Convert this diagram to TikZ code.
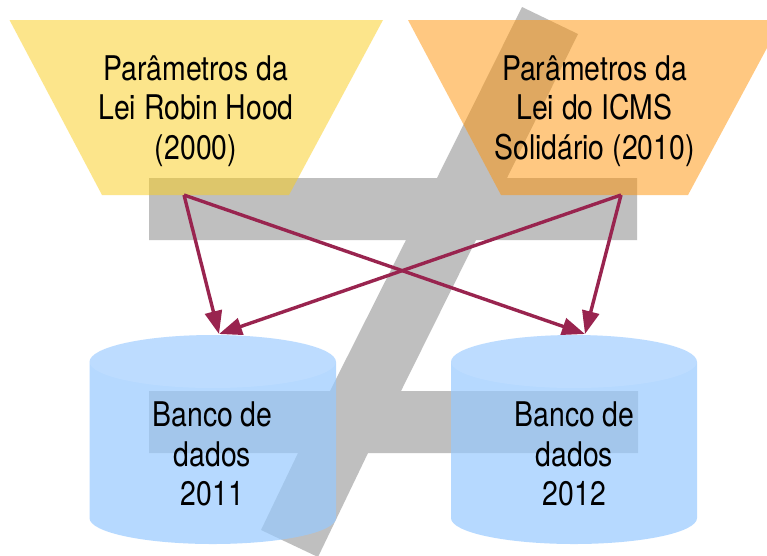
\documentclass[tikz,border=0pt]{standalone}
\usepackage{fontspec}
\setmainfont[FakeStretch=0.835]{TeX Gyre Heros}
\usetikzlibrary{arrows.meta}
\definecolor{barGray}{RGB}{191,191,191}
\definecolor{paramYellow}{RGB}{251,205,25}
\definecolor{paramOrange}{RGB}{255,147,5}
\definecolor{dbBlue}{RGB}{152,202,255}
\definecolor{arrowRed}{RGB}{153,36,79}
\tikzset{
  barshape/.style={fill=barGray,draw=none},
  yellowshape/.style={fill=paramYellow,fill opacity=.5,draw=none},
  orangeshape/.style={fill=paramOrange,fill opacity=.5,draw=none},
  dbbody/.style={fill=dbBlue,fill opacity=.7,draw=none},
  dbtop/.style={fill=white,fill opacity=.1,draw=none},
  label/.style={font=\fontsize{34}{39.5}\selectfont,align=center,inner sep=0pt,text=black},
  link/.style={draw=arrowRed,line width=3.4pt,-{Triangle[length=23pt,width=17pt]},shorten >=0pt}
}
\begin{document}
\begin{tikzpicture}[x=1pt,y=-1pt]
\useasboundingbox (0,0) rectangle (767,555);
\clip (0,0) rectangle (767,555);
\fill[white] (0,0) rectangle (767,555);
% grey Z-like figure
\fill[barshape] (522,7) -- (578,34) -- (507,178) -- (637,178) -- (637,240) -- (476,240)
  -- (401,391) -- (638,391) -- (638,453) -- (368,453) -- (318,557) -- (261,530)
  -- (298,453) -- (149,453) -- (149,391) -- (330,391) -- (406,240) -- (149,240)
  -- (149,178) -- (437,178) -- cycle;
% parameter trapezoids
\fill[yellowshape] (9.5,20) -- (383,20) -- (289,195) -- (102,195) -- cycle;
\fill[orangeshape] (408,20) -- (782,20) -- (688,195) -- (501,195) -- cycle;
% databases
\fill[dbbody] (89.5,362) arc[start angle=180,end angle=360,x radius=123.25,y radius=27]
  -- (336,518) arc[start angle=0,end angle=180,x radius=123.25,y radius=26] -- cycle;
\fill[dbtop] (212.75,361.5) ellipse[x radius=123.25,y radius=26.5];
\fill[dbbody] (451,362) arc[start angle=180,end angle=360,x radius=123,y radius=27]
  -- (697,518) arc[start angle=0,end angle=180,x radius=123,y radius=26] -- cycle;
\fill[dbtop] (574,361.5) ellipse[x radius=123,y radius=26.5];
% connector ends
\coordinate (robinOut) at (184,195);
\coordinate (icmsOut) at (621,195);
\coordinate (db11In) at (219,334);
\coordinate (db12In) at (585,334);
\draw[link] (robinOut) -- (db11In);
\draw[link] (robinOut) -- (db12In);
\draw[link] (icmsOut) -- (db11In);
\draw[link] (icmsOut) -- (db12In);
% labels
\node[label] (robin) at (196,111) {Parâmetros da\\Lei Robin Hood\\(2000)};
\node[label] (icms) at (594.5,111) {Parâmetros da\\Lei do ICMS\\Solidário (2010)};
\node[label] (db11) at (212.5,454) {Banco de\\dados\\2011};
\node[label] (db12) at (574.5,454) {Banco de\\dados\\2012};
\end{tikzpicture}
\end{document}
